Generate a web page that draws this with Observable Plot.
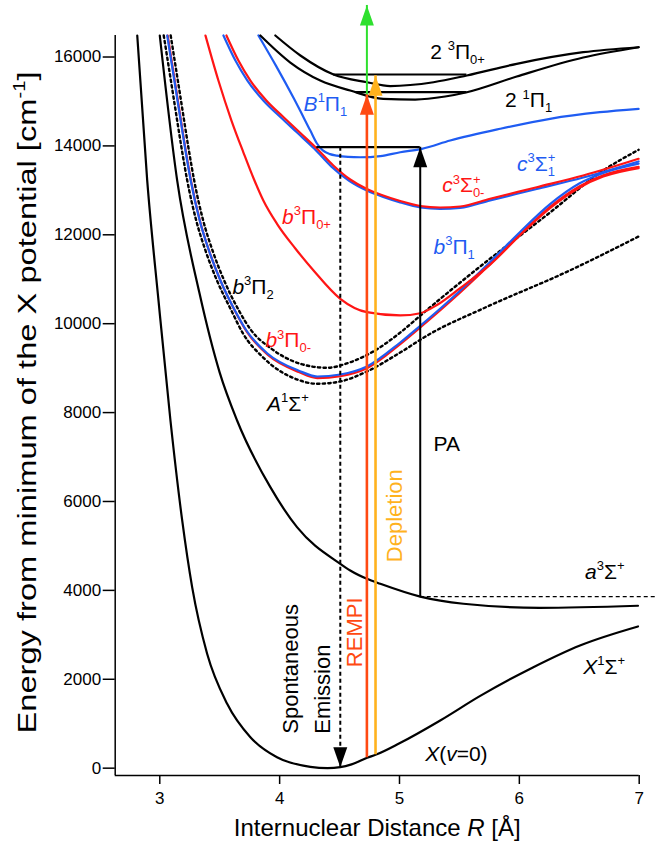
<!DOCTYPE html>
<html>
<head>
<meta charset="utf-8">
<script src="https://cdn.jsdelivr.net/npm/d3@7"></script>
<script src="https://cdn.jsdelivr.net/npm/@observablehq/plot@0.6"></script>
<style>
html,body{margin:0;padding:0;background:#fff;}
#chart svg{display:block;}
</style>
</head>
<body>
<div id="chart"></div>
<script>
// ---------- potential energy curves: [R (Å), E (cm^-1)] ----------
const X1Sigma = [[2.812,16484],[2.895,13224],[2.99,10500],[3.089,7822],[3.187,5573],[3.27,4072],[3.395,2574],[3.562,1449],[3.756,697],[3.978,247],[4.256,30],[4.40,0],[4.506,22],[4.6,85],[4.73,234],[4.80,300],[5.0,560],[5.34,1073],[5.67,1620],[6.117,2272],[6.506,2760],[6.99,3188]];
const a3Sigma = [[3.0,16484],[3.145,13224],[3.33,10700],[3.50,8900],[3.645,7822],[3.9225,6322],[4.145,5422],[4.506,4598],[4.589,4448],[4.728,4261],[4.84,4148],[5.173,3860],[5.533,3699],[6.17,3608],[6.99,3654]];
const A1Sigma = [[3.033,16484],[3.119,15021],[3.185,13896],[3.229,13221],[3.304,12322],[3.381,11647],[3.477,10972],[3.597,10297],[3.69,9800],[3.87,9220],[4.156,8735],[4.312,8648],[4.506,8700],[4.728,8924],[5.006,9352],[5.256,9773],[5.70,10345],[6.423,11200],[6.995,11962]];
const b3Pi2 = [[3.091,16484],[3.177,15021],[3.243,13896],[3.287,13221],[3.362,12322],[3.44,11647],[3.537,10972],[3.66,10297],[3.76,9860],[3.93,9440],[4.173,9098],[4.395,9008],[4.589,9133],[4.797,9400],[5.006,9800],[5.173,10180],[5.256,10370],[5.631,11197],[6.256,12502],[6.70,13447],[6.995,13912]];
const b3Pi1 = [[3.062,16484],[3.148,15021],[3.214,13896],[3.258,13221],[3.333,12322],[3.41,11647],[3.506,10972],[3.627,10297],[3.723,9847],[3.898,9330],[4.156,8948],[4.314,8812],[4.506,8857],[4.728,9037],[5.006,9577],[5.173,9953],[5.423,10540],[5.756,11389],[6.006,12064],[6.256,12689],[6.50,13153],[6.70,13390],[6.995,13600]];
const b3Pi0m = [[3.066,16484],[3.152,15000],[3.218,13870],[3.262,13195],[3.337,12295],[3.414,11620],[3.51,10945],[3.631,10270],[3.727,9815],[3.902,9295],[4.16,8912],[4.314,8775],[4.506,8820],[4.728,8998],[5.006,9540],[5.173,9915],[5.423,10500],[5.756,11340],[6.006,12010],[6.256,12630],[6.50,13090],[6.70,13340],[6.995,13530]];
const b3Pi0p = [[3.381,16484],[3.489,15471],[3.598,14571],[3.698,13851],[3.783,13266],[3.864,12771],[3.978,12247],[4.131,11692],[4.283,11197],[4.506,10560],[4.728,10259],[5.006,10185],[5.173,10236],[5.312,10420],[5.506,10800],[5.6,10990],[5.756,11330],[6.006,11990],[6.256,12600],[6.5,13060],[6.70,13310],[6.995,13500]];
const c3Sigma0m = [[3.556,16484],[3.656,15921],[3.756,15471],[3.889,15021],[4.033,14645],[4.173,14289],[4.312,13935],[4.448,13559],[4.589,13244],[4.728,13030],[4.864,12884],[5.006,12760],[5.173,12648],[5.339,12614],[5.506,12637],[5.756,12810],[6.145,13071],[6.533,13334],[6.995,13710]];
const c3Sigma1 = [[3.531,16484],[3.631,15921],[3.731,15471],[3.864,15021],[4.008,14645],[4.15,14289],[4.29,13935],[4.43,13540],[4.58,13215],[4.728,12995],[4.864,12850],[5.006,12728],[5.173,12615],[5.339,12582],[5.506,12605],[5.756,12775],[6.145,13030],[6.533,13290],[6.995,13650]];
const B1Pi1 = [[3.823,16484],[3.97,15800],[4.12,15060],[4.256,14344],[4.31,14060],[4.36,13900],[4.42,13815],[4.478,13783],[4.57,13755],[4.672,13745],[4.84,13772],[5.006,13858],[5.187,13934],[5.423,14121],[5.84,14385],[6.256,14610],[6.672,14758],[6.995,14834]];
const Pi2_3_0p = [[3.964,16484],[4.173,16034],[4.45,15606],[4.728,15433],[4.923,15347],[5.284,15433],[5.562,15584],[5.978,15847],[6.533,16108],[6.995,16220]];
const Pi2_1_1 = [[3.839,16484],[4.089,15876],[4.339,15471],[4.589,15246],[4.864,15059],[5.131,15043],[5.381,15111],[5.562,15208],[5.978,15561],[6.533,15989],[6.995,16220]];

// vibrational levels: [E, R from, R to]
const levels = [[13971,4.31,5.173],[15606,4.45,5.562],[15208,4.64,5.562]];
const aLevel = [[3860,5.173,7.14]];

// laser / emission arrows
const arrows = [
  {name:"PA", R:5.173, E0:3860, E1:13971, color:"black", w:2},
  {name:"REMPI", R:4.728, E0:234, E1:15150, color:"#ff4a12", w:2.6},
  {name:"Depletion", R:4.80, E0:300, E1:15580, color:"#ffb21e", w:2.6},
  {name:"ion", R:4.728, E0:15150, E1:17160, color:"#2ee02e", w:2}
];
const emission = [{R:4.506, E0:13971, E1:22}];

// labels
const RED = "#ff1515", BLUE = "#1f5cf2";
const stateLabels = [
  {label:"2 ^{3}Π_{0+}", R:5.256, E:16110, color:"black"},
  {label:"2 ^{1}Π_{1}", R:5.881, E:15021, color:"black"},
  {label:"*B*^{1}Π_{1}", R:4.20, E:14947, color:BLUE},
  {label:"*c*^{3}Σ^{+}_{1}", R:5.98, E:13597, color:BLUE},
  {label:"*c*^{3}Σ^{+}_{0-}", R:5.356, E:13109, color:RED},
  {label:"*b*^{3}Π_{0+}", R:4.02, E:12398, color:RED},
  {label:"*b*^{3}Π_{1}", R:5.284, E:11723, color:BLUE},
  {label:"*b*^{3}Π_{2}", R:3.606, E:10823, color:"black"},
  {label:"*b*^{3}Π_{0-}", R:3.881, E:9622, color:RED},
  {label:"*A*^{1}Σ^{+}", R:3.895, E:8198, color:"black"},
  {label:"PA", R:5.284, E:7298, color:"black"},
  {label:"*a*^{3}Σ^{+}", R:6.548, E:4412, color:"black"},
  {label:"*X*^{1}Σ^{+}", R:6.533, E:2274, color:"black"},
  {label:"*X*(*v*=0)", R:5.214, E:323, color:"black"}
];
const arrowLabels = [
  {label:"Spontaneous", R:4.097, E:774, color:"black"},
  {label:"Emission", R:4.364, E:774, color:"black"},
  {label:"REMPI", R:4.631, E:2272, color:"#ff4a12"},
  {label:"Depletion", R:4.964, E:4634, color:"#ffb21e"}
];

const xTicks = [3,4,5,6,7];
const yTicks = [0,2000,4000,6000,8000,10000,12000,14000,16000];
const xDomain = [2.628, 7];
const yDomain = [-165, 16484];
const xTitle = "Internuclear Distance *R* [Å]";
const yTitle = "Energy from minimum of the X potential [cm^{-1}]";

// ---------- drawing ----------
const FONT = "'Liberation Sans', Arial, Helvetica, sans-serif";
const arrowUp = {draw(ctx){ctx.moveTo(0,0);ctx.lineTo(7,20);ctx.lineTo(-7,20);ctx.closePath();}};
const arrowDown = {draw(ctx){ctx.moveTo(0,0);ctx.lineTo(7,-20);ctx.lineTo(-7,-20);ctx.closePath();}};

const curve = (data, stroke, opts={}) => Plot.line(data, {x:d=>d[0], y:d=>d[1], stroke, strokeWidth:2.2, curve:"monotone-x", ...opts});
const dotted = {strokeDasharray:"2.4,3.2", strokeWidth:2.4};

const marks = [
  Plot.ruleX([xDomain[0]], {y1:yDomain[0], y2:yDomain[1], strokeWidth:1.5}),
  Plot.ruleY([yDomain[0]], {x1:xDomain[0], x2:xDomain[1], strokeWidth:1.5}),
  Plot.axisX(xTicks, {tickSize:9, tickPadding:7, fontSize:17, label:null, strokeWidth:1.5, tickFormat:d3.format("d")}),
  Plot.axisY(yTicks, {tickSize:12, tickPadding:2, fontSize:17, label:null, strokeWidth:1.5, tickFormat:d3.format("d")}),
  curve(X1Sigma, "black"),
  curve(a3Sigma, "black"),
  Plot.ruleY(aLevel, {y:d=>d[0], x1:d=>d[1], x2:d=>d[2], strokeDasharray:"4,3", strokeWidth:1.4}),
  curve(A1Sigma, "black", dotted),
  curve(b3Pi2, "black", dotted),
  curve(b3Pi0m, RED),
  curve(b3Pi1, BLUE),
  curve(b3Pi0p, RED),
  curve(c3Sigma1, BLUE),
  curve(c3Sigma0m, RED),
  curve(B1Pi1, BLUE),
  curve(Pi2_3_0p, "black"),
  curve(Pi2_1_1, "black"),
  Plot.ruleY(levels, {y:d=>d[0], x1:d=>d[1], x2:d=>d[2], strokeWidth:2.2}),
  Plot.ruleX(emission, {x:"R", y1:"E0", y2:"E1", strokeDasharray:"4,3", strokeWidth:2}),
  Plot.dot(emission, {x:"R", y:"E1", symbol:arrowDown, fill:"black", stroke:"none"}),
  ...arrows.map(a => Plot.ruleX([a], {x:"R", y1:"E0", y2:"E1", stroke:a.color, strokeWidth:a.w})),
  Plot.dot(arrows, {x:"R", y:"E1", symbol:arrowUp, fill:"color", stroke:"none"}),
  Plot.text(stateLabels, {x:"R", y:"E", text:"label", fill:"color", textAnchor:"start", lineAnchor:"middle", fontSize:21}),
  Plot.text(arrowLabels, {x:"R", y:"E", text:"label", fill:"color", textAnchor:"start", lineAnchor:"middle", rotate:-90, fontSize:22}),
  Plot.text([xTitle], {text:d=>d, frameAnchor:"bottom", dy:53, textAnchor:"middle", lineAnchor:"middle", fontSize:24}),
  Plot.text([yTitle], {text:d=>d, frameAnchor:"left", dx:-88, dy:-3, rotate:-90, textAnchor:"middle", lineAnchor:"middle", fontSize:26})
];

const chart = Plot.plot({
  width:666, height:843,
  marginLeft:114.7, marginRight:27.3, marginTop:35, marginBottom:68,
  x:{domain:xDomain}, y:{domain:yDomain},
  color:{type:"identity"},
  style:{fontFamily:FONT, background:"white", overflow:"visible", color:"black"},
  marks
});
document.getElementById("chart").appendChild(chart);

// rich text: *italic*, ^{sup}, _{sub}
const svgns = "http://www.w3.org/2000/svg";
chart.querySelectorAll("text").forEach(t => {
  if (t.querySelector("tspan")) return;
  const s = t.textContent;
  const isYTitle = s === yTitle;
  if (!/[\^_]\{|\*/.test(s)) return;
  const fs = parseFloat(getComputedStyle(t).fontSize);
  const segs = []; let buf = "", it = false, i = 0;
  const flush = () => { if (buf) { segs.push({t:buf, k:"n", it}); buf = ""; } };
  while (i < s.length) {
    const c = s[i];
    if (c === "*") { flush(); it = !it; i++; }
    else if ((c === "^" || c === "_") && s[i+1] === "{") {
      flush(); const j = s.indexOf("}", i);
      segs.push({t:s.slice(i+2, j), k:c === "^" ? "sup" : "sub", it}); i = j + 1;
    } else { buf += c; i++; }
  }
  flush();
  t.textContent = "";
  let cur = 0, prev = null;
  for (const g of segs) {
    const ts = document.createElementNS(svgns, "tspan");
    const off = g.k === "sup" ? -0.4*fs : g.k === "sub" ? 0.24*fs : 0;
    if (off !== cur) ts.setAttribute("dy", off - cur);
    cur = off;
    if (g.k !== "n") ts.setAttribute("font-size", (0.62*fs).toFixed(1));
    if (g.it) ts.setAttribute("font-style", "italic");
    ts.textContent = g.t;
    t.appendChild(ts);
    if (g.k === "sub" && prev && prev.k === "sup") ts.setAttribute("dx", -prev.el.getComputedTextLength());
    prev = {k:g.k, el:ts};
  }
  if (isYTitle) {
    t.setAttribute("textLength", "662");
    t.setAttribute("lengthAdjust", "spacingAndGlyphs");
  }
});
</script>
</body>
</html>
